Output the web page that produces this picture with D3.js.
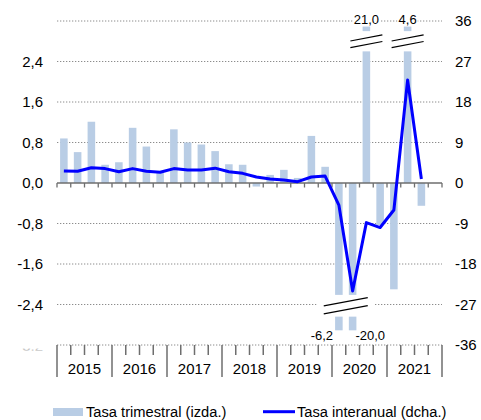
<!DOCTYPE html>
<html><head><meta charset="utf-8">
<script src="https://cdn.jsdelivr.net/npm/d3@7/dist/d3.min.js"></script>
<style>body{margin:0;background:#fff}svg{display:block;font-family:Arial,"Liberation Sans",sans-serif}</style>
</head><body><svg id="c" width="481" height="420"></svg>
<script>
const years = ["2015","2016","2017","2018","2019","2020","2021"];
const quarters = years.flatMap(y => ["T1","T2","T3","T4"].map(q => y + q));
// Tasa trimestral (left axis, %)
const barValues = [0.88,0.61,1.21,0.36, 0.41,1.09,0.72,0.2, 1.06,0.8,0.76,0.63, 0.37,0.36,-0.07,0.16, 0.26,0.1,0.93,0.32, -6.2,-20.0,21.0,-0.83, -2.1,4.6,-0.45, null];
// Tasa interanual (right axis, %)
const lineValues = [2.67,2.6,3.4,3.2, 2.5,3.2,2.6,2.4, 3.2,2.9,2.9,3.3, 2.5,2.15,1.33,0.9, 0.67,0.3,1.33,1.55, -4.9,-24.0,-8.8,-9.9, -6.0,22.9,0.9, null];
const leftTicks = [-3.2,-2.4,-1.6,-0.8,0,0.8,1.6,2.4,3.2];
const rightTicks = [-36,-27,-18,-9,0,9,18,27,36];
const leftTickLabels = ["-3,2","-2,4","-1,6","-0,8","0,0","0,8","1,6","2,4",""];
// axis-break settings (left-axis units): [lower piece end, upper piece start, cap]
const topBreak = [2.6, 3.0, 3.09];
const bottomBreak = [-2.21, -2.64, -2.91];

const svg = d3.select("#c");
const L = 57, R = 442, T = 21, B = 345;
const yL = d3.scaleLinear().domain([-3.2, 3.2]).range([B, T]);
const yR = d3.scaleLinear().domain([-36, 36]).range([B, T]);
const x = d3.scaleBand().domain(quarters).range([L, R]).paddingInner(0.45).paddingOuter(0.225);
const xi = d3.scaleLinear().domain([0, quarters.length]).range([L, R]);
const cx = q => x(q) + x.bandwidth() / 2;
const fmt = v => d3.format(".1f")(v).replace(".", ",").replace("−","-");

const barColor = "#b9cde5", lineColor = "#0000ff", gridColor = "#8c8c8c", axisColor = "#6e6e6e";

// gridlines
svg.append("g").selectAll("line").data(rightTicks.filter(d => d !== 0)).join("line")
  .attr("x1", L).attr("x2", R).attr("y1", d => yR(d)).attr("y2", d => yR(d))
  .attr("stroke", gridColor).attr("stroke-width", 1).attr("stroke-dasharray", "1.3,1.7");

// bars
const bars = svg.append("g");
quarters.forEach((q, i) => {
  const v = barValues[i];
  if (v == null) return;
  const pieces = [];
  if (v > 3.2) { pieces.push([0, topBreak[0]], [topBreak[1], topBreak[2]]); }
  else if (v < -3.2) { pieces.push([0, bottomBreak[0]], [bottomBreak[1], bottomBreak[2]]); }
  else pieces.push([0, v]);
  pieces.forEach(([a, b]) => {
    bars.append("rect").attr("x", x(q)).attr("width", x.bandwidth())
      .attr("y", yL(Math.max(a, b))).attr("height", Math.abs(yL(a) - yL(b)))
      .attr("fill", barColor);
  });
});

// break marks
function breakMark(xc, yv, len, gap, whiteBg) {
  const yc = yL(yv), dy = len * 0.19 / 2, dx = len / 2;
  const g = svg.append("g");
  if (whiteBg) g.append("rect").attr("x", xc - dx - 7).attr("y", yc - 4).attr("width", len + 14).attr("height", 8).attr("fill", "#fff");
  [-gap / 2, gap / 2].forEach(o => {
    g.append("line").attr("x1", xc - dx).attr("y1", yc + o + dy).attr("x2", xc + dx).attr("y2", yc + o - dy)
      .attr("stroke", "#000").attr("stroke-width", 1.2);
  });
}
const brokenTop = quarters.filter((q, i) => barValues[i] > 3.2);
const brokenBottom = quarters.filter((q, i) => barValues[i] < -3.2);
brokenTop.forEach(q => breakMark(cx(q), (topBreak[0] + topBreak[1]) / 2, 32, 6.6, false));
if (brokenBottom.length) {
  const xc = d3.mean(brokenBottom, cx);
  breakMark(xc, (bottomBreak[0] + bottomBreak[1]) / 2, 44, 8, true);
}

// value labels for broken bars
quarters.forEach((q, i) => {
  const v = barValues[i];
  if (v == null || Math.abs(v) <= 3.2) return;
  if (v > 0) {
    const t = svg.append("text").attr("x", cx(q)).attr("y", yL(3.2) + 3).attr("text-anchor", "middle")
      .attr("font-size", 13).attr("fill", "#000").text(fmt(v));
    const bb = t.node().getBBox();
    svg.insert("rect", () => t.node()).attr("x", bb.x - 1).attr("y", bb.y + 2).attr("width", bb.width + 2).attr("height", bb.height - 3).attr("fill", "#fff");
  } else {
    const first = q === brokenBottom[0];
    svg.append("text").attr("x", first ? x(q) - 2 : x(q) + x.bandwidth() - 1)
      .attr("y", yL(-3.2) - 5).attr("text-anchor", first ? "end" : "start")
      .attr("font-size", 13).attr("fill", "#000").text(fmt(v));
  }
});

// zero line with quarter ticks
svg.append("line").attr("x1", L).attr("x2", R).attr("y1", yL(0)).attr("y2", yL(0)).attr("stroke", axisColor).attr("stroke-width", 1.5);
svg.append("g").selectAll("line").data(d3.range(quarters.length + 1)).join("line")
  .attr("x1", d => xi(d)).attr("x2", d => xi(d)).attr("y1", yL(0)).attr("y2", yL(0) + 4.5)
  .attr("stroke", axisColor).attr("stroke-width", 1.3);

// bottom category axis ticks
svg.append("g").selectAll("line").data(d3.range(quarters.length + 1)).join("line")
  .attr("x1", d => xi(d)).attr("x2", d => xi(d)).attr("y1", B).attr("y2", d => d % 4 === 0 ? B + 32 : B + 10)
  .attr("stroke", axisColor).attr("stroke-width", 1.5);
svg.append("g").selectAll("text").data(years).join("text")
  .attr("x", (d, i) => xi(4 * i + 2)).attr("y", 374.3).attr("text-anchor", "middle")
  .attr("font-size", 15).attr("fill", "#000").text(d => d);

// line series
const lineData = quarters.map((q, i) => ({ q, v: lineValues[i] })).filter(d => d.v != null);
svg.append("path").datum(lineData)
  .attr("d", d3.line().x(d => cx(d.q)).y(d => yR(d.v)))
  .attr("fill", "none").attr("stroke", lineColor).attr("stroke-width", 3).attr("stroke-linejoin", "round");

// left axis labels
svg.append("g").selectAll("text").data(leftTicks.filter(d => d > -3.2)).join("text")
  .attr("x", 43).attr("y", d => yL(d) + 5).attr("text-anchor", "end")
  .attr("font-size", 15).attr("fill", "#000").text(d => leftTickLabels[leftTicks.indexOf(d)]);
// partially hidden bottom-left label
svg.append("clipPath").attr("id", "clipLbl").append("rect").attr("x", 0).attr("y", 348.6).attr("width", 50).attr("height", 2.2);
svg.append("text").attr("clip-path", "url(#clipLbl)").attr("x", 43).attr("y", yL(-3.2) + 5.5).attr("text-anchor", "end")
  .attr("font-size", 15).attr("fill", "#c4c4c4").text(leftTickLabels[0]);

// right axis labels
svg.append("g").selectAll("text").data(rightTicks).join("text")
  .attr("x", 455).attr("y", d => yR(d) + 5).attr("text-anchor", "start")
  .attr("font-size", 15).attr("fill", "#000").text(d => d);

// legend
const lg = svg.append("g");
lg.append("rect").attr("x", 53).attr("y", 408).attr("width", 30).attr("height", 8).attr("fill", barColor);
lg.append("text").attr("x", 86).attr("y", 416.7).attr("font-size", 14.7).attr("fill", "#000").text("Tasa trimestral (izda.)");
lg.append("line").attr("x1", 263).attr("x2", 295).attr("y1", 411.7).attr("y2", 411.7).attr("stroke", lineColor).attr("stroke-width", 3);
lg.append("text").attr("x", 297).attr("y", 416.7).attr("font-size", 14.7).attr("fill", "#000").text("Tasa interanual (dcha.)");
</script></body></html>
